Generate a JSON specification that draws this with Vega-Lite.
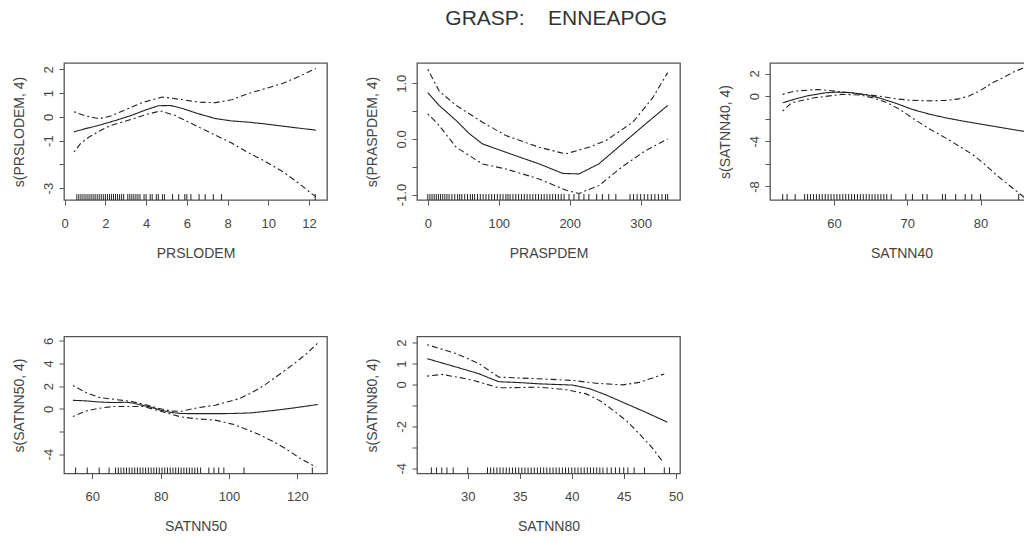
{
  "$schema": "https://vega.github.io/schema/vega-lite/v6.json",
  "padding": {"left": 11, "top": 8, "right": 0, "bottom": 0},
  "title": {"text": "GRASP:\u00a0\u00a0\u00a0\u00a0ENNEAPOG", "fontSize": 21, "font": "Liberation Sans", "fontWeight": "normal", "color": "#333", "offset": 33, "dx": 434, "anchor": "start", "frame": "bounds"},
  "bounds": "flush",
  "columns": 3,
  "spacing": {"row": 136.5, "column": 90},
  "datasets": {
    "p1": [
      {"s":"fit","x":0.46,"y":-0.63},{"s":"fit","x":1.0,"y":-0.5},{"s":"fit","x":1.7,"y":-0.35},{"s":"fit","x":2.5,"y":-0.15},{"s":"fit","x":3.3,"y":0.07},{"s":"fit","x":4.0,"y":0.3},{"s":"fit","x":4.6,"y":0.47},{"s":"fit","x":5.2,"y":0.48},{"s":"fit","x":5.8,"y":0.35},{"s":"fit","x":6.5,"y":0.15},{"s":"fit","x":7.4,"y":-0.07},{"s":"fit","x":8.2,"y":-0.17},{"s":"fit","x":9.0,"y":-0.22},{"s":"fit","x":9.9,"y":-0.3},{"s":"fit","x":11.0,"y":-0.42},{"s":"fit","x":12.33,"y":-0.56},
      {"s":"upper","x":0.46,"y":0.22},{"s":"upper","x":1.0,"y":0.05},{"s":"upper","x":1.7,"y":-0.08},{"s":"upper","x":2.3,"y":0.05},{"s":"upper","x":3.0,"y":0.3},{"s":"upper","x":3.8,"y":0.6},{"s":"upper","x":4.8,"y":0.84},{"s":"upper","x":5.8,"y":0.72},{"s":"upper","x":6.6,"y":0.62},{"s":"upper","x":7.4,"y":0.6},{"s":"upper","x":8.2,"y":0.72},{"s":"upper","x":9.0,"y":0.98},{"s":"upper","x":9.8,"y":1.18},{"s":"upper","x":10.7,"y":1.41},{"s":"upper","x":11.5,"y":1.7},{"s":"upper","x":12.33,"y":2.04},
      {"s":"lower","x":0.46,"y":-1.48},{"s":"lower","x":0.8,"y":-1.1},{"s":"lower","x":1.2,"y":-0.85},{"s":"lower","x":1.7,"y":-0.6},{"s":"lower","x":2.2,"y":-0.38},{"s":"lower","x":3.3,"y":-0.1},{"s":"lower","x":4.0,"y":0.1},{"s":"lower","x":4.7,"y":0.25},{"s":"lower","x":5.4,"y":0.07},{"s":"lower","x":6.4,"y":-0.35},{"s":"lower","x":7.4,"y":-0.77},{"s":"lower","x":8.2,"y":-1.1},{"s":"lower","x":9.0,"y":-1.5},{"s":"lower","x":9.8,"y":-1.85},{"s":"lower","x":10.7,"y":-2.3},{"s":"lower","x":11.5,"y":-2.8},{"s":"lower","x":12.33,"y":-3.37}
    ],
    "r1": [{"x":0.6},{"x":0.7},{"x":0.8},{"x":0.9},{"x":1.0},{"x":1.1},{"x":1.2},{"x":1.3},{"x":1.4},{"x":1.5},{"x":1.6},{"x":1.7},{"x":1.8},{"x":1.9},{"x":2.0},{"x":2.1},{"x":2.2},{"x":2.3},{"x":2.4},{"x":2.5},{"x":2.6},{"x":2.7},{"x":2.8},{"x":2.9},{"x":3.1},{"x":3.2},{"x":3.3},{"x":3.4},{"x":3.5},{"x":3.6},{"x":3.7},{"x":3.9},{"x":4.0},{"x":4.2},{"x":4.3},{"x":4.5},{"x":4.6},{"x":4.8},{"x":4.9},{"x":5.3},{"x":5.6},{"x":5.9},{"x":6.0},{"x":6.2},{"x":6.6},{"x":6.9},{"x":7.3},{"x":7.7},{"x":12.3}],
    "p2": [
      {"s":"fit","x":0,"y":0.83},{"s":"fit","x":16,"y":0.6},{"s":"fit","x":40,"y":0.33},{"s":"fit","x":58,"y":0.1},{"s":"fit","x":77,"y":-0.09},{"s":"fit","x":110,"y":-0.24},{"s":"fit","x":130,"y":-0.33},{"s":"fit","x":157,"y":-0.45},{"s":"fit","x":190,"y":-0.62},{"s":"fit","x":213,"y":-0.63},{"s":"fit","x":241,"y":-0.45},{"s":"fit","x":274,"y":-0.09},{"s":"fit","x":307,"y":0.27},{"s":"fit","x":338,"y":0.6},
      {"s":"upper","x":0,"y":1.25},{"s":"upper","x":16,"y":0.86},{"s":"upper","x":40,"y":0.6},{"s":"upper","x":77,"y":0.3},{"s":"upper","x":110,"y":0.06},{"s":"upper","x":157,"y":-0.15},{"s":"upper","x":194,"y":-0.27},{"s":"upper","x":227,"y":-0.15},{"s":"upper","x":251,"y":-0.03},{"s":"upper","x":289,"y":0.3},{"s":"upper","x":317,"y":0.74},{"s":"upper","x":338,"y":1.19},
      {"s":"lower","x":0,"y":0.45},{"s":"lower","x":16,"y":0.24},{"s":"lower","x":40,"y":-0.15},{"s":"lower","x":77,"y":-0.45},{"s":"lower","x":110,"y":-0.54},{"s":"lower","x":157,"y":-0.72},{"s":"lower","x":194,"y":-0.92},{"s":"lower","x":213,"y":-0.98},{"s":"lower","x":241,"y":-0.84},{"s":"lower","x":274,"y":-0.5},{"s":"lower","x":307,"y":-0.21},{"s":"lower","x":338,"y":0.0}
    ],
    "r2": [{"x":0},{"x":3},{"x":6},{"x":9},{"x":12},{"x":15},{"x":18},{"x":21},{"x":24},{"x":27},{"x":30},{"x":34},{"x":38},{"x":42},{"x":45},{"x":48},{"x":52},{"x":56},{"x":60},{"x":63},{"x":66},{"x":70},{"x":74},{"x":78},{"x":82},{"x":86},{"x":90},{"x":94},{"x":98},{"x":102},{"x":106},{"x":110},{"x":113},{"x":116},{"x":120},{"x":124},{"x":128},{"x":132},{"x":136},{"x":140},{"x":144},{"x":148},{"x":152},{"x":156},{"x":160},{"x":164},{"x":168},{"x":172},{"x":176},{"x":180},{"x":184},{"x":188},{"x":192},{"x":199},{"x":206},{"x":213},{"x":220},{"x":227},{"x":238},{"x":246},{"x":255},{"x":265},{"x":285},{"x":290},{"x":295},{"x":300},{"x":305},{"x":310},{"x":315},{"x":320},{"x":325},{"x":330},{"x":335},{"x":338}],
    "p3": [
      {"s":"fit","x":53,"y":-0.59},{"s":"fit","x":54.5,"y":-0.3},{"s":"fit","x":56.2,"y":0},{"s":"fit","x":58.9,"y":0.3},{"s":"fit","x":60.5,"y":0.35},{"s":"fit","x":62.4,"y":0.3},{"s":"fit","x":64.5,"y":0.1},{"s":"fit","x":66.1,"y":-0.15},{"s":"fit","x":68.5,"y":-0.65},{"s":"fit","x":70.7,"y":-1.18},{"s":"fit","x":73,"y":-1.6},{"s":"fit","x":75.2,"y":-1.92},{"s":"fit","x":77.5,"y":-2.2},{"s":"fit","x":79.8,"y":-2.46},{"s":"fit","x":82.5,"y":-2.75},{"s":"fit","x":85.2,"y":-3.05},{"s":"fit","x":86.2,"y":-3.15},
      {"s":"upper","x":53,"y":0.15},{"s":"upper","x":54.6,"y":0.44},{"s":"upper","x":57.8,"y":0.59},{"s":"upper","x":61,"y":0.38},{"s":"upper","x":63.5,"y":0.2},{"s":"upper","x":66.1,"y":0},{"s":"upper","x":68.5,"y":-0.25},{"s":"upper","x":70.7,"y":-0.38},{"s":"upper","x":73,"y":-0.42},{"s":"upper","x":75.2,"y":-0.38},{"s":"upper","x":77,"y":-0.25},{"s":"upper","x":78.4,"y":0},{"s":"upper","x":80,"y":0.5},{"s":"upper","x":81.6,"y":1.18},{"s":"upper","x":83,"y":1.6},{"s":"upper","x":84.3,"y":2.07},{"s":"upper","x":86.2,"y":2.6},
      {"s":"lower","x":53,"y":-1.33},{"s":"lower","x":54.2,"y":-0.59},{"s":"lower","x":57.3,"y":-0.15},{"s":"lower","x":61,"y":0.15},{"s":"lower","x":63.7,"y":0.09},{"s":"lower","x":65.5,"y":-0.2},{"s":"lower","x":67.3,"y":-0.59},{"s":"lower","x":69,"y":-1.2},{"s":"lower","x":71,"y":-2.07},{"s":"lower","x":73,"y":-2.9},{"s":"lower","x":75.2,"y":-3.7},{"s":"lower","x":77,"y":-4.4},{"s":"lower","x":78.9,"y":-5.17},{"s":"lower","x":80.5,"y":-6.0},{"s":"lower","x":82.1,"y":-6.95},{"s":"lower","x":83.7,"y":-7.8},{"s":"lower","x":85.2,"y":-8.58},{"s":"lower","x":86.2,"y":-9.1}
    ],
    "r3": [{"x":53.0},{"x":53.6},{"x":54.7},{"x":56.0},{"x":56.4},{"x":56.8},{"x":57.2},{"x":57.6},{"x":58.0},{"x":58.4},{"x":58.8},{"x":59.2},{"x":59.6},{"x":60.0},{"x":60.4},{"x":60.8},{"x":61.2},{"x":61.6},{"x":62.0},{"x":62.4},{"x":62.8},{"x":63.2},{"x":63.6},{"x":64.0},{"x":64.4},{"x":64.8},{"x":65.2},{"x":65.6},{"x":66.0},{"x":66.4},{"x":66.8},{"x":67.2},{"x":67.8},{"x":69.8},{"x":70.7},{"x":72.1},{"x":72.7},{"x":74.8},{"x":75.2},{"x":76.6},{"x":77.9},{"x":78.8},{"x":80.0},{"x":85.2}],
    "p4": [
      {"s":"fit","x":54.3,"y":0.75},{"s":"fit","x":58,"y":0.7},{"s":"fit","x":62,"y":0.6},{"s":"fit","x":66,"y":0.55},{"s":"fit","x":70,"y":0.58},{"s":"fit","x":72,"y":0.5},{"s":"fit","x":74,"y":0.35},{"s":"fit","x":77,"y":0.15},{"s":"fit","x":80,"y":-0.12},{"s":"fit","x":83,"y":-0.32},{"s":"fit","x":86,"y":-0.42},{"s":"fit","x":95,"y":-0.43},{"s":"fit","x":100,"y":-0.42},{"s":"fit","x":106,"y":-0.37},{"s":"fit","x":110,"y":-0.25},{"s":"fit","x":115,"y":-0.08},{"s":"fit","x":120,"y":0.12},{"s":"fit","x":126,"y":0.38},
      {"s":"upper","x":54.3,"y":2.06},{"s":"upper","x":58,"y":1.45},{"s":"upper","x":62,"y":1.0},{"s":"upper","x":66,"y":0.85},{"s":"upper","x":71.5,"y":0.65},{"s":"upper","x":75,"y":0.4},{"s":"upper","x":79.3,"y":0.05},{"s":"upper","x":83,"y":-0.2},{"s":"upper","x":86,"y":-0.22},{"s":"upper","x":91,"y":0.1},{"s":"upper","x":96,"y":0.32},{"s":"upper","x":99,"y":0.57},{"s":"upper","x":103,"y":0.9},{"s":"upper","x":106,"y":1.32},{"s":"upper","x":110,"y":2.0},{"s":"upper","x":113,"y":2.65},{"s":"upper","x":116,"y":3.3},{"s":"upper","x":119,"y":3.97},{"s":"upper","x":122.5,"y":4.8},{"s":"upper","x":126,"y":5.8},
      {"s":"lower","x":54.3,"y":-0.68},{"s":"lower","x":58,"y":-0.2},{"s":"lower","x":62,"y":0.05},{"s":"lower","x":66,"y":0.2},{"s":"lower","x":71.5,"y":0.2},{"s":"lower","x":75,"y":0.2},{"s":"lower","x":78,"y":-0.05},{"s":"lower","x":81,"y":-0.3},{"s":"lower","x":86,"y":-0.72},{"s":"lower","x":91,"y":-0.9},{"s":"lower","x":96,"y":-1.0},{"s":"lower","x":101,"y":-1.35},{"s":"lower","x":105,"y":-1.8},{"s":"lower","x":109,"y":-2.3},{"s":"lower","x":113,"y":-2.9},{"s":"lower","x":117,"y":-3.6},{"s":"lower","x":121,"y":-4.4},{"s":"lower","x":125.5,"y":-5.15}
    ],
    "r4": [{"x":55.1},{"x":58.5},{"x":62.0},{"x":64.9},{"x":66.8},{"x":67.6},{"x":68.4},{"x":69.2},{"x":70.0},{"x":70.8},{"x":71.6},{"x":72.4},{"x":73.2},{"x":74.0},{"x":74.8},{"x":75.6},{"x":76.4},{"x":77.2},{"x":78.0},{"x":78.8},{"x":79.6},{"x":80.4},{"x":81.2},{"x":82.0},{"x":82.8},{"x":83.6},{"x":84.4},{"x":85.2},{"x":86.0},{"x":86.8},{"x":87.6},{"x":88.4},{"x":89.2},{"x":90.0},{"x":90.8},{"x":91.7},{"x":94.1},{"x":95.6},{"x":97.0},{"x":98.5},{"x":104.4},{"x":124.4}],
    "p5": [
      {"s":"fit","x":26.1,"y":1.23},{"s":"fit","x":27.5,"y":1.03},{"s":"fit","x":28.9,"y":0.83},{"s":"fit","x":30,"y":0.67},{"s":"fit","x":31.1,"y":0.51},{"s":"fit","x":32,"y":0.32},{"s":"fit","x":33,"y":0.13},{"s":"fit","x":35,"y":0.09},{"s":"fit","x":36.9,"y":0.03},{"s":"fit","x":38.5,"y":0.0},{"s":"fit","x":40.1,"y":-0.03},{"s":"fit","x":41.7,"y":-0.2},{"s":"fit","x":43.3,"y":-0.5},{"s":"fit","x":44.9,"y":-0.85},{"s":"fit","x":47,"y":-1.3},{"s":"fit","x":49.2,"y":-1.8},
      {"s":"upper","x":26.1,"y":1.9},{"s":"upper","x":28.9,"y":1.47},{"s":"upper","x":31.1,"y":0.99},{"s":"upper","x":33,"y":0.35},{"s":"upper","x":36.9,"y":0.27},{"s":"upper","x":40.1,"y":0.19},{"s":"upper","x":42.3,"y":0.06},{"s":"upper","x":44.9,"y":-0.02},{"s":"upper","x":46.5,"y":0.1},{"s":"upper","x":48.9,"y":0.5},
      {"s":"lower","x":26.1,"y":0.4},{"s":"lower","x":27.5,"y":0.48},{"s":"lower","x":29,"y":0.35},{"s":"lower","x":30.5,"y":0.2},{"s":"lower","x":33,"y":-0.16},{"s":"lower","x":36.9,"y":-0.13},{"s":"lower","x":39.5,"y":-0.25},{"s":"lower","x":41.4,"y":-0.45},{"s":"lower","x":42.8,"y":-0.8},{"s":"lower","x":44,"y":-1.24},{"s":"lower","x":45.3,"y":-1.75},{"s":"lower","x":46.5,"y":-2.36},{"s":"lower","x":47.7,"y":-3.0},{"s":"lower","x":48.8,"y":-3.71}
    ],
    "r5": [{"x":26.5},{"x":27.0},{"x":27.5},{"x":28.0},{"x":28.6},{"x":30.0},{"x":31.9},{"x":32.2},{"x":32.5},{"x":32.8},{"x":33.1},{"x":33.4},{"x":33.7},{"x":34.0},{"x":34.3},{"x":34.6},{"x":34.9},{"x":35.2},{"x":35.5},{"x":35.8},{"x":36.1},{"x":36.4},{"x":36.7},{"x":37.0},{"x":37.3},{"x":37.6},{"x":37.9},{"x":38.2},{"x":38.5},{"x":38.8},{"x":39.1},{"x":39.4},{"x":39.7},{"x":40.0},{"x":40.3},{"x":40.6},{"x":40.9},{"x":41.2},{"x":41.5},{"x":41.8},{"x":42.1},{"x":42.4},{"x":42.7},{"x":43.0},{"x":43.4},{"x":43.8},{"x":44.2},{"x":44.6},{"x":45.0},{"x":45.4},{"x":46.0},{"x":47.0},{"x":48.9},{"x":49.4}]
  },
  "concat": [
    {
      "width": 263, "height": 137,
      "layer": [
        {"data": {"name": "p1"}, "mark": {"type": "line", "color": "#222", "strokeWidth": 1.1, "clip": true},
         "encoding": {
           "x": {"field": "x", "type": "quantitative", "scale": {"domain": [-0.03, 12.88], "nice": false, "zero": false}, "axis": {"title": "PRSLODEM", "values": [0,2,4,6,8,10,12], "tickCount": 30, "format": "d", "labelOverlap": false}},
           "y": {"field": "y", "type": "quantitative", "scale": {"domain": [-3.5, 2.27], "nice": false, "zero": false}, "axis": {"title": "s(PRSLODEM, 4)", "values": [-3,-2,-1,0,1,2], "tickCount": 30, "labelOverlap": false, "labelExpr": "datum.value == -2 ? '' : toString(datum.value)"}},
           "strokeDash": {"field": "s", "type": "nominal", "scale": {"domain": ["fit","upper","lower"], "range": [[1,0],[2,3,6,3],[2,3,6,3]]}, "legend": null}
         }},
        {"data": {"name": "r1"}, "mark": {"type": "rule", "color": "#222", "strokeWidth": 1},
         "encoding": {"x": {"field": "x", "type": "quantitative"}, "y": {"datum": -3.5}, "y2": {"datum": -3.25}}}
      ]
    },
    {
      "width": 263, "height": 137,
      "layer": [
        {"data": {"name": "p2"}, "mark": {"type": "line", "color": "#222", "strokeWidth": 1.1, "clip": true},
         "encoding": {
           "x": {"field": "x", "type": "quantitative", "scale": {"domain": [-15.2, 355.4], "nice": false, "zero": false}, "axis": {"title": "PRASPDEM", "values": [0,100,200,300], "tickCount": 30, "format": "d", "labelOverlap": false}},
           "y": {"field": "y", "type": "quantitative", "scale": {"domain": [-1.098, 1.363], "nice": false, "zero": false}, "axis": {"title": "s(PRASPDEM, 4)", "values": [-1,-0.5,0,0.5,1], "tickCount": 30, "labelOverlap": false, "labelExpr": "abs(datum.value) == 0.5 ? '' : replace(format(datum.value, '.1f'), '\u2212', '-')"}},
           "strokeDash": {"field": "s", "type": "nominal", "scale": {"domain": ["fit","upper","lower"], "range": [[1,0],[2,3,6,3],[2,3,6,3]]}, "legend": null}
         }},
        {"data": {"name": "r2"}, "mark": {"type": "rule", "color": "#222", "strokeWidth": 1},
         "encoding": {"x": {"field": "x", "type": "quantitative"}, "y": {"datum": -1.098}, "y2": {"datum": -0.99}}}
      ]
    },
    {
      "width": 263, "height": 137,
      "layer": [
        {"data": {"name": "p3"}, "mark": {"type": "line", "color": "#222", "strokeWidth": 1.1, "clip": true},
         "encoding": {
           "x": {"field": "x", "type": "quantitative", "scale": {"domain": [51.27, 87.15], "nice": false, "zero": false}, "axis": {"title": "SATNN40", "values": [60,70,80], "tickCount": 30, "format": "d", "labelOverlap": false}},
           "y": {"field": "y", "type": "quantitative", "scale": {"domain": [-9.2, 2.93], "nice": false, "zero": false}, "axis": {"title": "s(SATNN40, 4)", "values": [-8,-6,-4,-2,0,2], "tickCount": 30, "labelOverlap": false, "labelExpr": "datum.value == -2 || datum.value == -6 ? '' : toString(datum.value)"}},
           "strokeDash": {"field": "s", "type": "nominal", "scale": {"domain": ["fit","upper","lower"], "range": [[1,0],[2,3,6,3],[2,3,6,3]]}, "legend": null}
         }},
        {"data": {"name": "r3"}, "mark": {"type": "rule", "color": "#222", "strokeWidth": 1},
         "encoding": {"x": {"field": "x", "type": "quantitative"}, "y": {"datum": -9.2}, "y2": {"datum": -8.67}}}
      ]
    },
    {
      "width": 263, "height": 137,
      "layer": [
        {"data": {"name": "p4"}, "mark": {"type": "line", "color": "#222", "strokeWidth": 1.1, "clip": true},
         "encoding": {
           "x": {"field": "x", "type": "quantitative", "scale": {"domain": [51.7, 128.7], "nice": false, "zero": false}, "axis": {"title": "SATNN50", "values": [60,80,100,120], "tickCount": 30, "format": "d", "labelOverlap": false}},
           "y": {"field": "y", "type": "quantitative", "scale": {"domain": [-5.71, 6.38], "nice": false, "zero": false}, "axis": {"title": "s(SATNN50, 4)", "values": [-4,-2,0,2,4,6], "tickCount": 30, "labelOverlap": false, "labelExpr": "datum.value == -2 ? '' : toString(datum.value)"}},
           "strokeDash": {"field": "s", "type": "nominal", "scale": {"domain": ["fit","upper","lower"], "range": [[1,0],[2,3,6,3],[2,3,6,3]]}, "legend": null}
         }},
        {"data": {"name": "r4"}, "mark": {"type": "rule", "color": "#222", "strokeWidth": 1},
         "encoding": {"x": {"field": "x", "type": "quantitative"}, "y": {"datum": -5.71}, "y2": {"datum": -5.18}}}
      ]
    },
    {
      "width": 263, "height": 137,
      "layer": [
        {"data": {"name": "p5"}, "mark": {"type": "line", "color": "#222", "strokeWidth": 1.1, "clip": true},
         "encoding": {
           "x": {"field": "x", "type": "quantitative", "scale": {"domain": [25.12, 50.41], "nice": false, "zero": false}, "axis": {"title": "SATNN80", "values": [30,35,40,45,50], "tickCount": 30, "format": "d", "labelOverlap": false}},
           "y": {"field": "y", "type": "quantitative", "scale": {"domain": [-4.25, 2.29], "nice": false, "zero": false}, "axis": {"title": "s(SATNN80, 4)", "values": [-4,-3,-2,-1,0,1,2], "tickCount": 30, "labelOverlap": false, "labelExpr": "datum.value == -1 || datum.value == -3 ? '' : toString(datum.value)"}},
           "strokeDash": {"field": "s", "type": "nominal", "scale": {"domain": ["fit","upper","lower"], "range": [[1,0],[2,3,6,3],[2,3,6,3]]}, "legend": null}
         }},
        {"data": {"name": "r5"}, "mark": {"type": "rule", "color": "#222", "strokeWidth": 1},
         "encoding": {"x": {"field": "x", "type": "quantitative"}, "y": {"datum": -4.25}, "y2": {"datum": -3.96}}}
      ]
    }
  ],
  "config": {
    "view": {"stroke": "#555", "strokeWidth": 1.3},
    "axis": {"grid": false, "domain": false, "tickColor": "#555", "tickSize": 5, "labelFont": "Liberation Sans", "labelFontSize": 13, "labelColor": "#444", "titleFont": "Liberation Sans", "titleFontSize": 14, "titleFontWeight": "normal", "titleColor": "#444"},
    "axisX": {"labelPadding": 12, "titlePadding": 16, "labelFlush": false},
    "axisY": {"labelAngle": 270, "labelAlign": "center", "labelBaseline": "bottom", "labelPadding": 4, "titlePadding": 16, "labelFlush": false}
  }
}
